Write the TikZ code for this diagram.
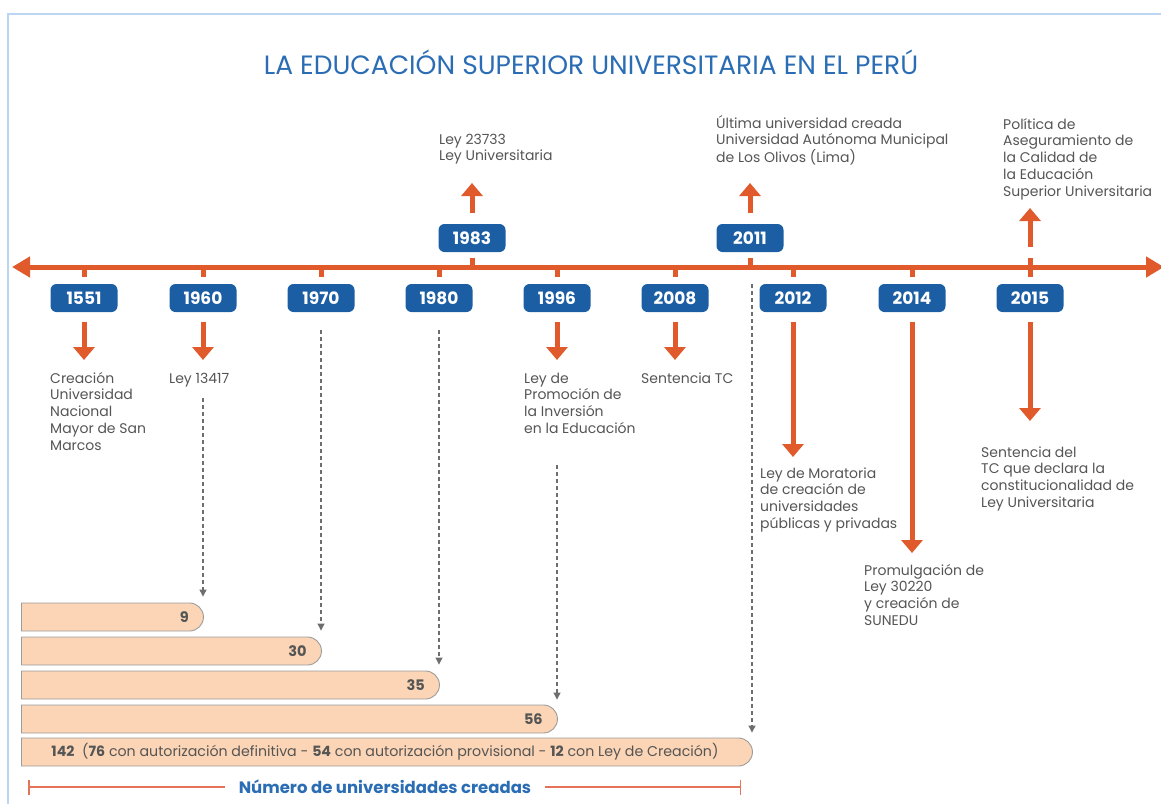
\documentclass[tikz,border=0pt]{standalone}
\usepackage{fontspec}
\setmainfont{Poppins}
\usetikzlibrary{arrows.meta,shapes.misc}
\definecolor{tlorange}{HTML}{E05A2B}
\definecolor{badgeblue}{HTML}{1C5EA3}
\definecolor{titleblue}{HTML}{2A6DB5}
\definecolor{txtgray}{HTML}{555555}
\definecolor{barfill}{HTML}{FBD5B5}
\definecolor{barline}{HTML}{9C9C9C}
\definecolor{framecol}{HTML}{BCD6F2}
\definecolor{brcol}{HTML}{E5735A}
\definecolor{dashgray}{HTML}{6E6E6E}
\newcommand\evlines[1]{\begin{tabular}[t]{@{}l@{}}#1\end{tabular}}
\begin{document}
\begin{tikzpicture}[x=1pt,y=-1pt,
 badge/.style={fill=badgeblue, rounded corners=6pt, minimum width=67pt, minimum height=28pt, inner sep=0pt, text=white, font=\fontsize{17}{17}\selectfont\bfseries},
 evtxt/.style={anchor=base west, inner sep=0pt, text=txtgray, font=\fontsize{14}{16.8}\selectfont},
 evarr/.style={draw=tlorange, line width=5pt, -{Triangle[width=21pt,length=13pt]}},
 stub/.style={draw=tlorange, line width=5pt},
 dasharr/.style={draw=dashgray, line width=1.1pt, dash pattern=on 4pt off 3pt, -{Triangle[width=7pt,length=7pt]}},
 bar/.style={draw=barline, line width=0.9pt, fill=barfill, rounded rectangle, rounded rectangle left arc=none, minimum height=28pt, inner sep=0pt, anchor=west},
 barnum/.style={anchor=east, inner sep=0pt, text=txtgray, font=\fontsize{14.5}{14.5}\selectfont\bfseries},
]
\useasboundingbox (0,0) rectangle (1161,804);
% frame
\draw[framecol, line width=2pt] (8,804) -- (8,14) -- (1161,14);
% title
\node[text=titleblue, font=\fontsize{26.5}{26.5}\selectfont, inner sep=0pt] (title) at (591,62) {LA EDUCACIÓN SUPERIOR UNIVERSITARIA EN EL PERÚ};
% timeline
\coordinate (tlL) at (12,267);
\coordinate (tlR) at (1164,267);
\draw[stub, {Triangle[width=20pt,length=18pt]}-{Triangle[width=20pt,length=18pt]}] (tlL) -- (tlR);
% badges below
\foreach \yr/\xx in {1551/84,1960/203,1970/321,1980/439,1996/557,2008/675,2012/793,2014/912,2015/1030}{
  \node[badge] (b\yr) at (\xx,298) {\yr};
  \draw[stub, shorten <=7pt] (b\yr.north) -- (b\yr.north |- tlL);
}
% badges above
\foreach \yr/\xx in {1983/472,2011/750}{
  \node[badge] (b\yr) at (\xx,238) {\yr};
  \draw[stub, shorten <=6pt] (b\yr.south) -- (b\yr.south |- tlL);
}
\draw[stub, shorten <=7pt, shorten >=-9pt] (b2015.north) -- (b2015.north |- tlL);
% event texts
\node[evtxt] (t1551) at (50,383) {\evlines{Creación\\Universidad\\Nacional\\Mayor de San\\Marcos}};
\node[evtxt] (t1960) at (169,383) {\evlines{Ley 13417}};
\node[evtxt] (t1996) at (524,383) {\evlines{Ley de\\Promoción de\\la Inversión\\en la Educación}};
\node[evtxt] (t2008) at (641,383) {\evlines{Sentencia TC}};
\node[evtxt] (t2012) at (760,478) {\evlines{Ley de Moratoria\\de creación de\\universidades\\públicas y privadas}};
\node[evtxt] (t2014) at (864,575) {\evlines{Promulgación de\\Ley 30220\\y creación de\\SUNEDU}};
\node[evtxt] (t2015) at (981,457) {\evlines{Sentencia del\\TC que declara la\\constitucionalidad de\\Ley Universitaria}};
\node[evtxt] (t1983) at (439,144) {\evlines{Ley 23733\\Ley Universitaria}};
\node[evtxt] (t2011) at (716,128) {\evlines{Última universidad creada\\Universidad Autónoma Municipal\\de Los Olivos (Lima)}};
\node[evtxt] (t2015u) at (1003,129) {\evlines{Política de\\Aseguramiento de\\la Calidad de\\la Educación\\Superior Universitaria}};
% arrow ends
\coordinate (e1551) at (84,360);
\coordinate (e1960) at (203,360);
\coordinate (e1996) at (557,360);
\coordinate (e2008) at (675,360);
\coordinate (e2012) at (793,457);
\coordinate (e2014) at (912,553);
\coordinate (e2015) at (1030,421);
\coordinate (e1983) at (472,183);
\coordinate (e2011) at (750,183);
\coordinate (s2015u) at (1030,247);
\coordinate (e2015u) at (1030,208);
\foreach \yr in {1551,1960,1996,2008,2012,2014,2015}{
  \draw[evarr, shorten <=10pt] (b\yr.south) -- (e\yr);
}
\foreach \yr in {1983,2011}{
  \draw[evarr, shorten <=11pt] (b\yr.north) -- (e\yr);
}
\draw[evarr] (s2015u) -- (e2015u);
% bars
\node[bar, minimum width=182pt] (bar9) at (21,617) {};
\node[bar, minimum width=300pt] (bar30) at (21,651) {};
\node[bar, minimum width=418pt] (bar35) at (21,685) {};
\node[bar, minimum width=536pt] (bar56) at (21,719) {};
\node[bar, minimum width=731pt] (bar142) at (21,752) {};
\node[barnum] (n9) at ([xshift=-15pt]bar9.east) {9};
\node[barnum] (n30) at ([xshift=-15pt]bar30.east) {30};
\node[barnum] (n35) at ([xshift=-15pt]bar35.east) {35};
\node[barnum] (n56) at ([xshift=-15pt]bar56.east) {56};
\node[inner sep=0pt, text=txtgray, font=\fontsize{14.2}{14.2}\selectfont] (n142) at (385,752) {\textbf{142}\ \ (\textbf{76} con autorización definitiva - \textbf{54} con autorización provisional - \textbf{12} con Ley de Creación)};
% dashed connectors
\coordinate (d1960) at (203,398);
\coordinate (d1970) at (321,330);
\coordinate (d1980) at (439,330);
\coordinate (d1996) at (557,465);
\coordinate (d2011) at (752,284);
\draw[dasharr, shorten >=6pt] (d1960) -- (d1960 |- bar9.north);
\draw[dasharr, shorten >=6pt] (d1970) -- (d1970 |- bar30.north);
\draw[dasharr, shorten >=6pt] (d1980) -- (d1980 |- bar35.north);
\draw[dasharr, shorten >=5pt] (d1996) -- (d1996 |- bar56.north);
\draw[dasharr, shorten >=5pt] (d2011) -- (d2011 |- bar142.north);
% bracket
\coordinate (brL) at (28,787);
\coordinate (brR) at (741,787);
\draw[brcol, line width=1.5pt, {Bar[width=15pt]}-{Bar[width=15pt]}] (brL) -- (brR);
\node[fill=white, inner xsep=14pt, inner ysep=2pt, text=titleblue, font=\fontsize{16.5}{16.5}\selectfont\bfseries] (brtxt) at (385,787) {Número de universidades creadas};
\end{tikzpicture}
\end{document}
